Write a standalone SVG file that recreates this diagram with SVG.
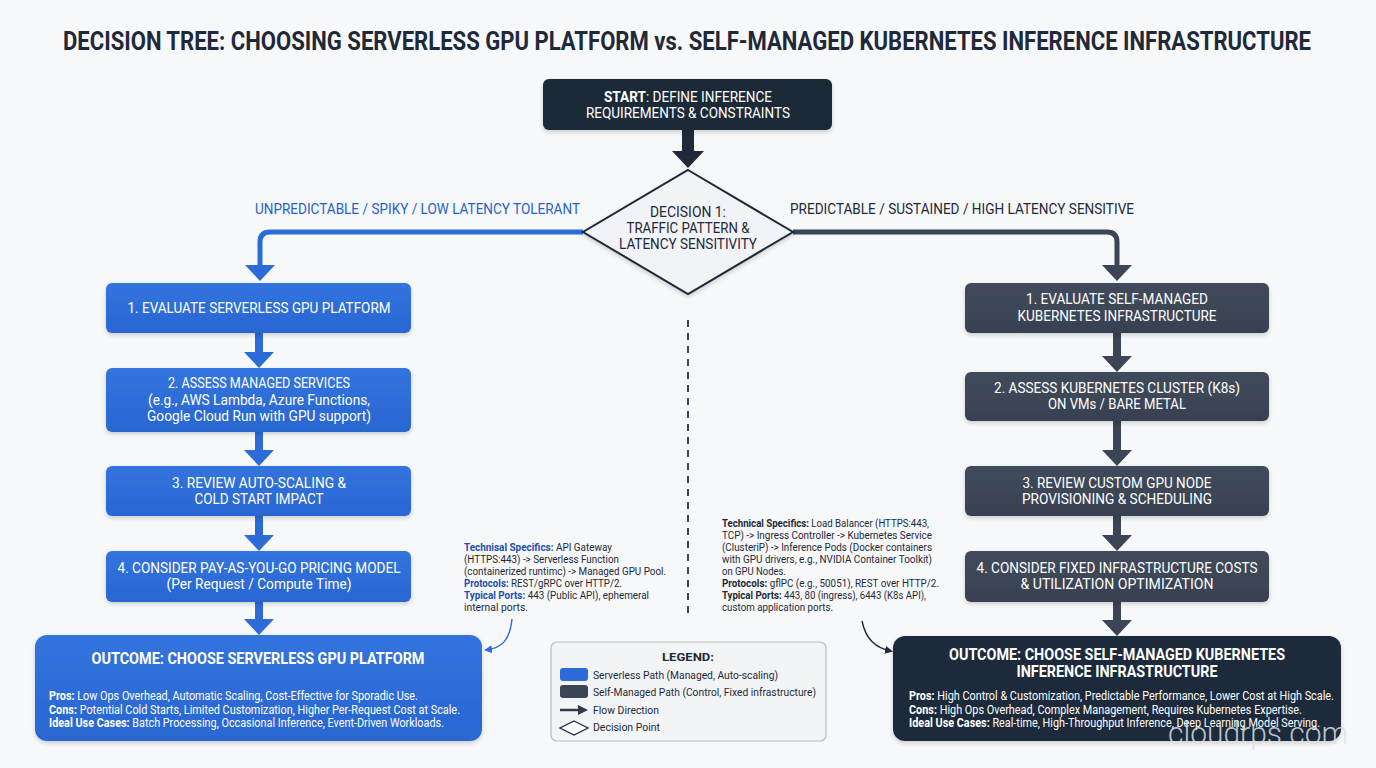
<svg xmlns="http://www.w3.org/2000/svg" width="1376" height="768" viewBox="0 0 1376 768">
<style>
text{font-family:Roboto,"Liberation Sans",sans-serif;}
.t{fill:#1f2937;font-weight:700;font-size:21px;}
.bw{fill:#ffffff;font-size:15px;text-anchor:middle;}
.dk{fill:#1f2937;font-size:15px;text-anchor:middle;}
.lb{fill:#2563c9;font-size:15px;}
.ld{fill:#1f2937;font-size:15px;}
.ot{fill:#ffffff;font-size:16px;font-weight:700;text-anchor:middle;}
.op{fill:#ffffff;font-size:12px;}
.b{font-weight:700;}
.ts{fill:#1f2937;font-size:10.5px;}
.tb{fill:#1e4fae;font-weight:700;}
.lg{fill:#1f2937;font-size:11.5px;}
.blue{fill:#2d6bd8;}
.dark{fill:#3b4555;}
</style>
<defs>
<filter id="sh" x="-10%" y="-20%" width="120%" height="150%">
<feDropShadow dx="0" dy="2" stdDeviation="2" flood-color="#000" flood-opacity="0.18"/>
</filter>
<linearGradient id="gb" x1="0" y1="0" x2="0" y2="1"><stop offset="0" stop-color="#3274de"/><stop offset="1" stop-color="#2a66d2"/></linearGradient>
<linearGradient id="gd" x1="0" y1="0" x2="0" y2="1"><stop offset="0" stop-color="#414b5c"/><stop offset="1" stop-color="#374151"/></linearGradient>
<marker id="ab" markerUnits="userSpaceOnUse" markerWidth="16" markerHeight="30" refX="0" refY="15" orient="auto" viewBox="0 0 16 30"><path d="M0,0 L16,15 L0,30 Z" fill="#2d6bd8"/></marker>
<marker id="ad" markerUnits="userSpaceOnUse" markerWidth="16" markerHeight="30" refX="0" refY="15" orient="auto" viewBox="0 0 16 30"><path d="M0,0 L16,15 L0,30 Z" fill="#3b4555"/></marker>
<marker id="as" markerUnits="userSpaceOnUse" markerWidth="17" markerHeight="32" refX="0" refY="16" orient="auto" viewBox="0 0 17 32"><path d="M0,0 L17,16 L0,32 Z" fill="#1f2937"/></marker>
<marker id="sb" markerUnits="userSpaceOnUse" markerWidth="8" markerHeight="8" refX="6" refY="4" orient="auto" viewBox="0 0 8 8"><path d="M0,0 L8,4 L0,8 Z" fill="#2d6bd8"/></marker>
<marker id="sd" markerUnits="userSpaceOnUse" markerWidth="8" markerHeight="8" refX="6" refY="4" orient="auto" viewBox="0 0 8 8"><path d="M0,0 L8,4 L0,8 Z" fill="#1f2937"/></marker>
<marker id="lgm" markerUnits="userSpaceOnUse" markerWidth="10" markerHeight="10" refX="0" refY="5" orient="auto" viewBox="0 0 10 10"><path d="M0,0 L10,5 L0,10 Z" fill="#2f3a4b"/></marker>
</defs>
<rect width="1376" height="768" fill="#f7f8fa"/>
<text class="t" x="63" y="41.7" transform="scale(1,1.2)" textLength="1248" lengthAdjust="spacingAndGlyphs">DECISION TREE: CHOOSING SERVERLESS GPU PLATFORM vs. SELF-MANAGED KUBERNETES INFERENCE INFRASTRUCTURE</text>

<g id="connectors">
<path d="M688,130 V151" stroke="#1f2937" stroke-width="12" fill="none" marker-end="url(#as)"/>
<path d="M583,232 H270 Q260,232 260,242 V265" stroke="#2d6bd8" stroke-width="5" fill="none" marker-end="url(#ab)"/>
<path d="M793,232 H1107 Q1117,232 1117,242 V265" stroke="#3b4555" stroke-width="5" fill="none" marker-end="url(#ad)"/>
<path d="M259,333 V352" stroke="#2d6bd8" stroke-width="8" fill="none" marker-end="url(#ab)"/>
<path d="M259,432 V450" stroke="#2d6bd8" stroke-width="8" fill="none" marker-end="url(#ab)"/>
<path d="M259,516 V535" stroke="#2d6bd8" stroke-width="8" fill="none" marker-end="url(#ab)"/>
<path d="M259,602 V619" stroke="#2d6bd8" stroke-width="8" fill="none" marker-end="url(#ab)"/>
<path d="M1117,333 V356" stroke="#3b4555" stroke-width="8" fill="none" marker-end="url(#ad)"/>
<path d="M1117,421 V450" stroke="#3b4555" stroke-width="8" fill="none" marker-end="url(#ad)"/>
<path d="M1117,516 V535" stroke="#3b4555" stroke-width="8" fill="none" marker-end="url(#ad)"/>
<path d="M1117,602 V620" stroke="#3b4555" stroke-width="8" fill="none" marker-end="url(#ad)"/>
<path d="M688,320 V615" stroke="#3b4352" stroke-width="2" stroke-dasharray="7 6" fill="none"/>
<path d="M512,619 C510,640 502,648 486,650" stroke="#2d6bd8" stroke-width="1.4" fill="none" marker-end="url(#sb)"/>
<path d="M862,621 C866,640 876,648 891,651" stroke="#1f2937" stroke-width="1.4" fill="none" marker-end="url(#sd)"/>
</g>

<g id="start">
<rect x="543" y="79" width="289" height="51" rx="6" fill="#1f2937" filter="url(#sh)"/>
<text class="bw" x="688" y="102" textLength="168" lengthAdjust="spacingAndGlyphs"><tspan class="b">START</tspan>: DEFINE INFERENCE</text>
<text class="bw" x="688" y="118" textLength="204" lengthAdjust="spacingAndGlyphs">REQUIREMENTS &amp; CONSTRAINTS</text>
</g>

<g id="decision1">
<polygon points="688,170 793,232 688,294 583,232" fill="#f1f3f6" stroke="#1f2937" stroke-width="2" filter="url(#sh)"/>
<text class="dk" x="688" y="217" textLength="76" lengthAdjust="spacingAndGlyphs">DECISION 1:</text>
<text class="dk" x="688" y="233" textLength="123" lengthAdjust="spacingAndGlyphs">TRAFFIC PATTERN &amp;</text>
<text class="dk" x="688" y="249" textLength="138" lengthAdjust="spacingAndGlyphs">LATENCY SENSITIVITY</text>
</g>

<g id="label-left"><text class="lb" x="255" y="214" textLength="325" lengthAdjust="spacingAndGlyphs">UNPREDICTABLE / SPIKY / LOW LATENCY TOLERANT</text></g>
<g id="label-right"><text class="ld" x="790" y="214" textLength="344" lengthAdjust="spacingAndGlyphs">PREDICTABLE / SUSTAINED / HIGH LATENCY SENSITIVE</text></g>

<g id="l1">
<rect x="106" y="283" width="305" height="50" rx="6" fill="url(#gb)" filter="url(#sh)"/>
<text class="bw" x="259" y="313" textLength="263" lengthAdjust="spacingAndGlyphs">1. EVALUATE SERVERLESS GPU PLATFORM</text>
</g>
<g id="l2">
<rect x="106" y="368" width="305" height="64" rx="6" fill="url(#gb)" filter="url(#sh)"/>
<text class="bw" x="259" y="388" textLength="182" lengthAdjust="spacingAndGlyphs">2. ASSESS MANAGED SERVICES</text>
<text class="bw" x="259" y="405" textLength="222" lengthAdjust="spacingAndGlyphs">(e.g., AWS Lambda, Azure Functions,</text>
<text class="bw" x="259" y="421" textLength="224" lengthAdjust="spacingAndGlyphs">Google Cloud Run with GPU support)</text>
</g>
<g id="l3">
<rect x="106" y="466" width="305" height="50" rx="6" fill="url(#gb)" filter="url(#sh)"/>
<text class="bw" x="259" y="488" textLength="174" lengthAdjust="spacingAndGlyphs">3. REVIEW AUTO-SCALING &amp;</text>
<text class="bw" x="259" y="504" textLength="129" lengthAdjust="spacingAndGlyphs">COLD START IMPACT</text>
</g>
<g id="l4">
<rect x="106" y="551" width="305" height="51" rx="6" fill="url(#gb)" filter="url(#sh)"/>
<text class="bw" x="259" y="573" textLength="283" lengthAdjust="spacingAndGlyphs">4. CONSIDER PAY-AS-YOU-GO PRICING MODEL</text>
<text class="bw" x="259" y="589" textLength="185" lengthAdjust="spacingAndGlyphs">(Per Request / Compute Time)</text>
</g>
<g id="outcome-left">
<rect x="35" y="635" width="447" height="106" rx="12" fill="url(#gb)" filter="url(#sh)"/>
<text class="ot" x="258" y="664" textLength="333" lengthAdjust="spacingAndGlyphs">OUTCOME: CHOOSE SERVERLESS GPU PLATFORM</text>
<text class="op" x="49" y="700" textLength="369" lengthAdjust="spacingAndGlyphs"><tspan class="b">Pros:</tspan> Low Ops Overhead, Automatic Scaling, Cost-Effective for Sporadic Use.</text>
<text class="op" x="49" y="714" textLength="411" lengthAdjust="spacingAndGlyphs"><tspan class="b">Cons:</tspan> Potential Cold Starts, Limited Customization, Higher Per-Request Cost at Scale.</text>
<text class="op" x="49" y="727" textLength="395" lengthAdjust="spacingAndGlyphs"><tspan class="b">Ideal Use Cases:</tspan> Batch Processing, Occasional Inference, Event-Driven Workloads.</text>
</g>

<g id="r1">
<rect x="965" y="283" width="304" height="50" rx="6" fill="url(#gd)" filter="url(#sh)"/>
<text class="bw" x="1117" y="304" textLength="182" lengthAdjust="spacingAndGlyphs">1. EVALUATE SELF-MANAGED</text>
<text class="bw" x="1117" y="321" textLength="199" lengthAdjust="spacingAndGlyphs">KUBERNETES INFRASTRUCTURE</text>
</g>
<g id="r2">
<rect x="965" y="372" width="304" height="49" rx="6" fill="url(#gd)" filter="url(#sh)"/>
<text class="bw" x="1117" y="393" textLength="246" lengthAdjust="spacingAndGlyphs">2. ASSESS KUBERNETES CLUSTER (K8s)</text>
<text class="bw" x="1117" y="409" textLength="138" lengthAdjust="spacingAndGlyphs">ON VMs / BARE METAL</text>
</g>
<g id="r3">
<rect x="965" y="466" width="304" height="50" rx="6" fill="url(#gd)" filter="url(#sh)"/>
<text class="bw" x="1117" y="488" textLength="189" lengthAdjust="spacingAndGlyphs">3. REVIEW CUSTOM GPU NODE</text>
<text class="bw" x="1117" y="504" textLength="190" lengthAdjust="spacingAndGlyphs">PROVISIONING &amp; SCHEDULING</text>
</g>
<g id="r4">
<rect x="965" y="551" width="304" height="51" rx="6" fill="url(#gd)" filter="url(#sh)"/>
<text class="bw" x="1117" y="573" textLength="281" lengthAdjust="spacingAndGlyphs">4. CONSIDER FIXED INFRASTRUCTURE COSTS</text>
<text class="bw" x="1117" y="589" textLength="193" lengthAdjust="spacingAndGlyphs">&amp; UTILIZATION OPTIMIZATION</text>
</g>
<g id="outcome-right">
<rect x="893" y="636" width="448" height="105" rx="12" fill="#1f2a3b" filter="url(#sh)"/>
<text class="ot" x="1117" y="660" textLength="336" lengthAdjust="spacingAndGlyphs">OUTCOME: CHOOSE SELF-MANAGED KUBERNETES</text>
<text class="ot" x="1117" y="677" textLength="201" lengthAdjust="spacingAndGlyphs">INFERENCE INFRASTRUCTURE</text>
<text class="op" x="909" y="700" textLength="425" lengthAdjust="spacingAndGlyphs"><tspan class="b">Pros:</tspan> High Control &amp; Customization, Predictable Performance, Lower Cost at High Scale.</text>
<text class="op" x="909" y="714" textLength="393" lengthAdjust="spacingAndGlyphs"><tspan class="b">Cons:</tspan> High Ops Overhead, Complex Management, Requires Kubernetes Expertise.</text>
<text class="op" x="909" y="727" textLength="411" lengthAdjust="spacingAndGlyphs"><tspan class="b">Ideal Use Cases:</tspan> Real-time, High-Throughput Inference, Deep Learning Model Serving.</text>
</g>

<g id="tech-left">
<text class="ts" x="464" y="551" textLength="148" lengthAdjust="spacingAndGlyphs"><tspan class="tb">Technisal Specifics:</tspan> API Gateway</text>
<text class="ts" x="464" y="563" textLength="155" lengthAdjust="spacingAndGlyphs">(HTTPS:443) -&gt; Serverless Function</text>
<text class="ts" x="464" y="575" textLength="202" lengthAdjust="spacingAndGlyphs">(containerized runtimc) -&gt; Managed GPU Pool.</text>
<text class="ts" x="464" y="587" textLength="158" lengthAdjust="spacingAndGlyphs"><tspan class="tb">Protocols:</tspan> REST/gRPC over HTTP/2.</text>
<text class="ts" x="464" y="599" textLength="185" lengthAdjust="spacingAndGlyphs"><tspan class="tb">Typical Ports:</tspan> 443 (Public API), ephemeral</text>
<text class="ts" x="464" y="611" textLength="64" lengthAdjust="spacingAndGlyphs">internal ports.</text>
</g>

<g id="tech-right">
<text class="ts" x="722" y="527" textLength="207" lengthAdjust="spacingAndGlyphs"><tspan class="b">Technical Specifics:</tspan> Load Balancer (HTTPS:443,</text>
<text class="ts" x="722" y="539" textLength="210" lengthAdjust="spacingAndGlyphs">TCP) -&gt; Ingress Controller -&gt; Kubernetes Service</text>
<text class="ts" x="722" y="551" textLength="210" lengthAdjust="spacingAndGlyphs">(ClusteriP) -&gt; Inference Pods (Docker containers</text>
<text class="ts" x="722" y="563" textLength="210" lengthAdjust="spacingAndGlyphs">with GPU drivers, e.g., NVIDIA Container Toolkit)</text>
<text class="ts" x="722" y="575" textLength="64" lengthAdjust="spacingAndGlyphs">on GPU Nodes.</text>
<text class="ts" x="722" y="587" textLength="217" lengthAdjust="spacingAndGlyphs"><tspan class="b">Protocols:</tspan> gflPC (e.g., 50051), REST over HTTP/2.</text>
<text class="ts" x="722" y="599" textLength="204" lengthAdjust="spacingAndGlyphs"><tspan class="b">Typical Ports:</tspan> 443, 80 (ingress), 6443 (K8s API),</text>
<text class="ts" x="722" y="611" textLength="111" lengthAdjust="spacingAndGlyphs">custom application ports.</text>
</g>

<g id="legend">
<rect x="551" y="642" width="275" height="99" rx="6" fill="#f3f4f6" stroke="#b8bcc2" stroke-width="1.2"/>
<text class="lg b" x="688" y="661" text-anchor="middle" font-size="13" textLength="52" lengthAdjust="spacingAndGlyphs">LEGEND:</text>
<rect x="560" y="668" width="28" height="13" rx="3" class="blue"/>
<text class="lg" x="593" y="679" textLength="185" lengthAdjust="spacingAndGlyphs">Serverless Path (Managed, Auto-scaling)</text>
<rect x="560" y="685" width="28" height="13" rx="3" class="dark"/>
<text class="lg" x="593" y="696" textLength="223" lengthAdjust="spacingAndGlyphs">Self-Managed Path (Control, Fixed infrastructure)</text>
<path d="M560,710 H578" stroke="#2f3a4b" stroke-width="2.5" marker-end="url(#lgm)"/>
<text class="lg" x="593" y="714" textLength="66" lengthAdjust="spacingAndGlyphs">Flow Direction</text>
<polygon points="574,721 588,728 574,735 560,728" fill="#ffffff" stroke="#1f2937" stroke-width="1.3"/>
<text class="lg" x="593" y="731" textLength="67" lengthAdjust="spacingAndGlyphs">Decision Point</text>
</g>

<text x="1168" y="744" font-size="32" font-weight="300" fill="#dde0e5" fill-opacity="0.85" textLength="180" lengthAdjust="spacingAndGlyphs">cloudrps.com</text>
</svg>
